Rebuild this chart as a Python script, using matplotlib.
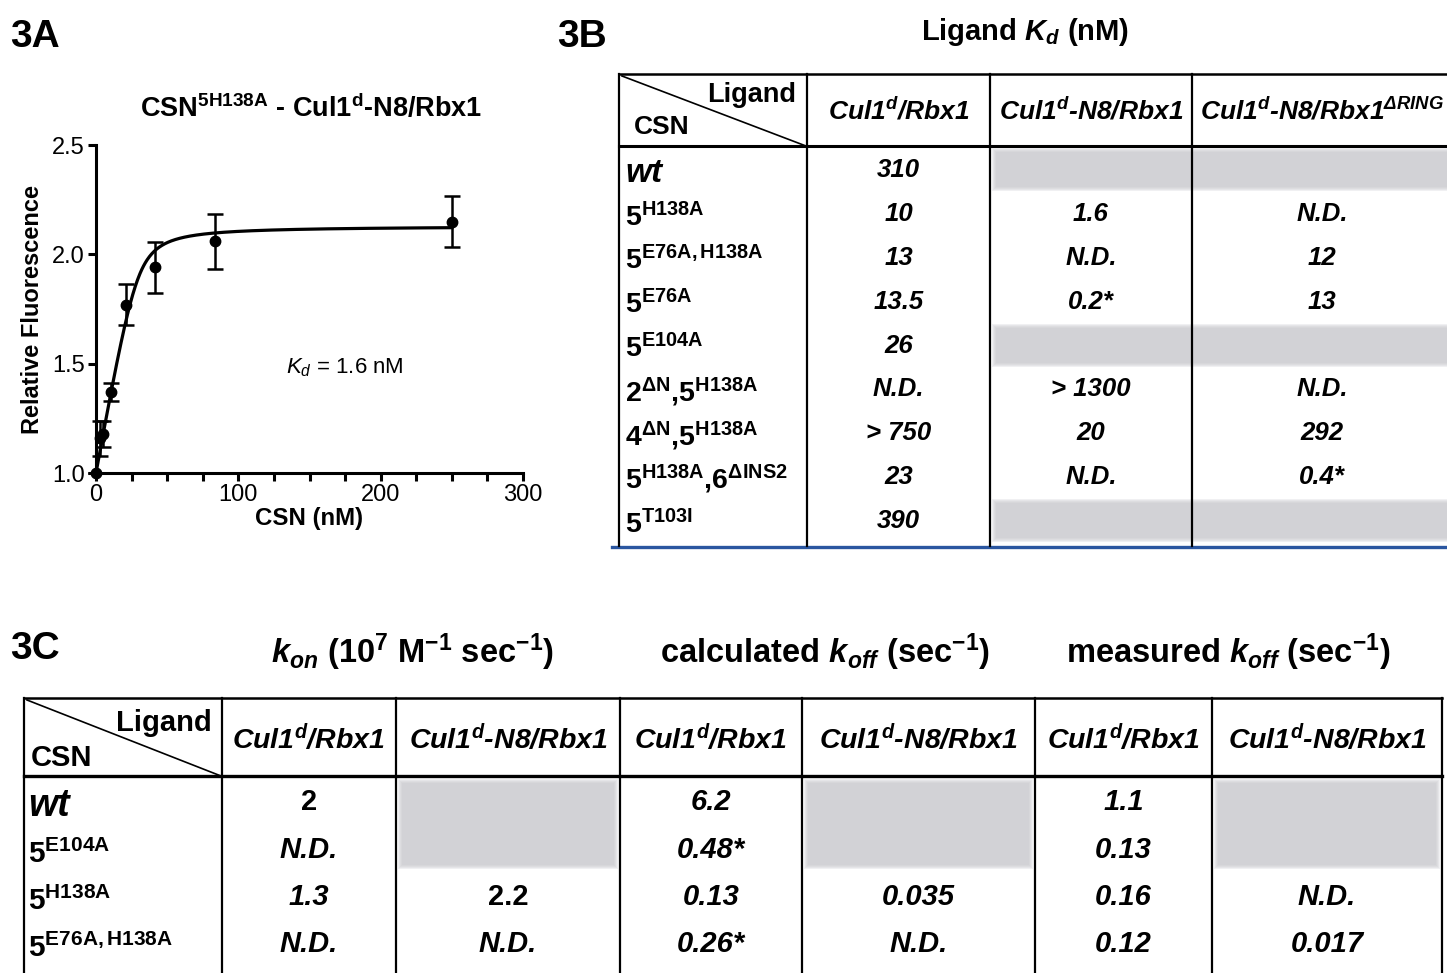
import numpy as np
import matplotlib
matplotlib.use("Agg")
import matplotlib.pyplot as plt
from matplotlib.patches import Rectangle
from matplotlib.ticker import MultipleLocator, FixedLocator

# ------------------------------------------------------------------ data
# Panel 3A : binding titration
csn_nM = [0, 2.6, 5.2, 10.4, 20.8, 41.7, 83.3, 250]
rel_fluor = [1.00, 1.16, 1.18, 1.37, 1.77, 1.94, 2.06, 2.15]
rel_fluor_err = [0.0, 0.08, 0.06, 0.04, 0.095, 0.115, 0.125, 0.115]
# fitted quadratic (tight) binding model parameters
fit_kd_nM = 1.6
fit_ligand_nM = 30.0
fit_f0 = 1.0
fit_fmax = 2.13

# Panel 3B : Kd table
kd_rows = ["wt", "5$^{\\mathbf{H138A}}$", "5$^{\\mathbf{E76A,H138A}}$",
           "5$^{\\mathbf{E76A}}$", "5$^{\\mathbf{E104A}}$",
           "2$^{\\mathbf{\\Delta N}}$,5$^{\\mathbf{H138A}}$",
           "4$^{\\mathbf{\\Delta N}}$,5$^{\\mathbf{H138A}}$",
           "5$^{\\mathbf{H138A}}$,6$^{\\mathbf{\\Delta INS2}}$",
           "5$^{\\mathbf{T103I}}$"]
kd_cols = ["Cul1$^{\\mathbfit{d}}$/Rbx1", "Cul1$^{\\mathbfit{d}}$-N8/Rbx1",
           "Cul1$^{\\mathbfit{d}}$-N8/Rbx1$^{\\mathbfit{\\Delta RING}}$"]
kd_cul1 = ["310", "10", "13", "13.5", "26", "N.D.", "> 750", "23", "390"]
kd_cul1_n8 = [None, "1.6", "N.D.", "0.2*", None, "> 1300", "20", "N.D.", None]
kd_cul1_n8_dring = [None, "N.D.", "12", "13", None, "N.D.", "292", "0.4*", None]

# Panel 3C : kinetics table
kin_groups = ["$\\mathbfit{k}_{\\mathbfit{on}}$ (10$^{\\mathbf{7}}$ M$^{\\mathbf{-1}}$ sec$^{\\mathbf{-1}}$)",
              "calculated $\\mathbfit{k}_{\\mathbfit{off}}$ (sec$^{\\mathbf{-1}}$)",
              "measured $\\mathbfit{k}_{\\mathbfit{off}}$ (sec$^{\\mathbf{-1}}$)"]
kin_cols = ["Cul1$^{\\mathbfit{d}}$/Rbx1", "Cul1$^{\\mathbfit{d}}$-N8/Rbx1"] * 3
kin_rows = ["wt", "5$^{\\mathbf{E104A}}$", "5$^{\\mathbf{H138A}}$", "5$^{\\mathbf{E76A,H138A}}$"]
kon_cul1 = ["2", "N.D.", "1.3", "N.D."]
kon_cul1_n8 = [None, None, "2.2", "N.D."]
koff_calc_cul1 = ["6.2", "0.48*", "0.13", "0.26*"]
koff_calc_cul1_n8 = [None, None, "0.035", "N.D."]
koff_meas_cul1 = ["1.1", "0.13", "0.16", "0.12"]
koff_meas_cul1_n8 = [None, None, "N.D.", "0.017"]

# ------------------------------------------------------------------ style
plt.rcParams["font.family"] = ["Liberation Sans", "DejaVu Sans"]
plt.rcParams["mathtext.fontset"] = "custom"
plt.rcParams["mathtext.rm"] = "Liberation Sans"
plt.rcParams["mathtext.it"] = "Liberation Sans:italic"
plt.rcParams["mathtext.bf"] = "Liberation Sans:bold"
plt.rcParams["mathtext.bfit"] = "Liberation Sans:bold:italic"
plt.rcParams["mathtext.sf"] = "Liberation Sans"

W, H = 1447, 973
fig = plt.figure(figsize=(W / 100, H / 100), dpi=100)
bg = fig.add_axes([0, 0, 1, 1])
bg.set_xlim(0, W)
bg.set_ylim(H, 0)
bg.axis("off")

GRAY_BASE = "#c6c6cc"


def soft_rect(x, y, w, h):
    """light gray cell with slightly blurred edges"""
    for k in range(5):
        bg.add_patch(Rectangle((x + k, y + k), w - 2 * k, h - 2 * k,
                               facecolor=GRAY_BASE, edgecolor="none",
                               alpha=0.25, zorder=1))


# panel labels
for lbl, x, y in [("3A", 10, 47), ("3B", 557, 47), ("3C", 10, 659)]:
    bg.text(x, y, lbl, fontsize=28, fontweight="bold", ha="left", va="baseline")

# ------------------------------------------------------------------ 3A
x0, x1, y0, y1 = 96, 523, 473, 145
ax = fig.add_axes([x0 / W, 1 - y0 / H, (x1 - x0) / W, (y0 - y1) / H])
xf = np.linspace(0, 250, 600)
s = fit_ligand_nM + xf + fit_kd_nM
frac = (s - np.sqrt(s ** 2 - 4 * fit_ligand_nM * xf)) / (2 * fit_ligand_nM)
ax.plot(xf, fit_f0 + (fit_fmax - fit_f0) * frac, color="k", lw=2.3, clip_on=False)
ax.errorbar(csn_nM, rel_fluor, yerr=rel_fluor_err, fmt="o", color="k", ms=7.5,
            capsize=5.5, elinewidth=1.8, capthick=1.8, clip_on=False, zorder=3)
ax.set_xlim(0, 300)
ax.set_ylim(1.0, 2.5)
ax.xaxis.set_major_locator(FixedLocator([0, 100, 200, 300]))
ax.xaxis.set_minor_locator(MultipleLocator(25))
ax.yaxis.set_major_locator(FixedLocator([1.0, 1.5, 2.0, 2.5]))
ax.set_yticklabels(["1.0", "1.5", "2.0", "2.5"])
for sp in ["top", "right"]:
    ax.spines[sp].set_visible(False)
for sp in ["left", "bottom"]:
    ax.spines[sp].set_linewidth(2.2)
ax.tick_params(axis="both", which="both", direction="out", width=2.2, length=6,
               labelsize=17, pad=2)
ax.tick_params(axis="x", which="minor", length=6)
ax.set_xlabel("CSN (nM)", fontsize=17.3, fontweight="bold", labelpad=1)
ax.set_ylabel("Relative Fluorescence", fontsize=17, fontweight="bold", labelpad=6)
ax.patch.set_alpha(0)
bg.text(311, 117, "CSN$^{\\mathbf{5H138A}}$ - Cul1$^{\\mathbf{d}}$-N8/Rbx1",
        fontsize=19.5, fontweight="bold", ha="center", va="baseline")
bg.text(345, 373, "$K_d$ = 1.6 nM", fontsize=16, ha="center", va="baseline")

# ------------------------------------------------------------------ 3B table
bL, bR, bT, bH, bB = 619, 1452, 74, 146, 547
bcols = [bL, 807, 990, 1192, bR]
row_c = [168 + 43.9 * i for i in range(len(kd_rows))]
bvals = [kd_cul1, kd_cul1_n8, kd_cul1_n8_dring]

# gray shading for empty cells
for ri in range(len(kd_rows)):
    empt = [ci for ci in range(3) if bvals[ci][ri] is None]
    if empt:
        xa = bcols[min(empt) + 1] + 2
        xb = bcols[max(empt) + 2]
        soft_rect(xa, row_c[ri] - 20, xb - xa, 43)

bg.text(1025, 40, "Ligand $\\mathbfit{K}_{\\mathbfit{d}}$ (nM)", fontsize=21,
        fontweight="bold", ha="center", va="baseline")
bg.plot([bL, bR], [bT, bT], color="k", lw=1.8, zorder=3)
bg.plot([bL, bR], [bH, bH], color="k", lw=2.2, zorder=3)
bg.plot([612, bR], [bB, bB], color="#2a56a0", lw=2.4, zorder=3)
for x in bcols[:-1]:
    bg.plot([x, x], [bT, bB - 1], color="k", lw=1.6, zorder=3)
bg.plot([bL + 3, bcols[1] - 1], [bT + 2, bH], color="k", lw=1.2, zorder=3)
bg.text(752, 95, "Ligand", fontsize=19.5, fontweight="bold", ha="center", va="center")
bg.text(662, 127, "CSN", fontsize=19, fontweight="bold", ha="center", va="center")
for ci, lab in enumerate(kd_cols):
    cx = (bcols[ci + 1] + bcols[ci + 2]) / 2
    bg.text(cx, 119, lab, fontsize=19, fontweight="bold", style="italic",
            ha="center", va="baseline")
for ri, lab in enumerate(kd_rows):
    if lab == "wt":
        bg.text(625, row_c[ri] + 14, lab, fontsize=24, fontweight="bold",
                style="italic", ha="left", va="baseline")
    else:
        bg.text(625, row_c[ri] + 14, lab, fontsize=20.5, fontweight="bold",
                ha="left", va="baseline")
for ci, col in enumerate(bvals):
    cx = (bcols[ci + 1] + bcols[ci + 2]) / 2
    for ri, v in enumerate(col):
        if v is not None:
            bg.text(cx, row_c[ri] + 9, v, fontsize=18.5, fontweight="bold",
                    style="italic", ha="center", va="baseline", zorder=4)

# ------------------------------------------------------------------ 3C table
cL, cR, cT, cH, cB = 24, 1442, 698, 776, 990
ccols = [cL, 222, 396, 620, 802, 1035, 1212, cR]
crow_c = [800, 848, 895, 942]
cvals = [kon_cul1, kon_cul1_n8, koff_calc_cul1, koff_calc_cul1_n8,
         koff_meas_cul1, koff_meas_cul1_n8]
upright = {"2", "2.2"}

for ci, col in enumerate(cvals):
    empties = [ri for ri, v in enumerate(col) if v is None]
    if empties:
        top = crow_c[min(empties)] - 21
        bot = crow_c[max(empties)] + 21
        soft_rect(ccols[ci + 1] + 2, top, ccols[ci + 2] - ccols[ci + 1] - 4, bot - top)

for gi, g in enumerate(kin_groups):
    cx = [412, 825, 1228][gi]
    bg.text(cx, 663, g, fontsize=23.5, fontweight="bold", ha="center", va="baseline")

bg.plot([cL, cR], [cT, cT], color="k", lw=1.8, zorder=3)
bg.plot([cL, cR], [cH, cH], color="k", lw=2.4, zorder=3)
for x in ccols:
    bg.plot([x, x], [cT, cB], color="k", lw=1.6, zorder=3)
bg.plot([cL + 3, ccols[1] - 1], [cT + 2, cH], color="k", lw=1.2, zorder=3)
bg.text(164, 723, "Ligand", fontsize=21, fontweight="bold", ha="center", va="center")
bg.text(61, 758, "CSN", fontsize=21, fontweight="bold", ha="center", va="center")
for ci, lab in enumerate(kin_cols):
    cx = (ccols[ci + 1] + ccols[ci + 2]) / 2
    bg.text(cx, 749, lab, fontsize=20.5, fontweight="bold", style="italic",
            ha="center", va="baseline")
for ri, lab in enumerate(kin_rows):
    if lab == "wt":
        bg.text(28, crow_c[ri] + 16, lab, fontsize=27, fontweight="bold",
                style="italic", ha="left", va="baseline")
    else:
        bg.text(28, crow_c[ri] + 15, lab, fontsize=21.5, fontweight="bold",
                ha="left", va="baseline")
for ci, col in enumerate(cvals):
    cx = (ccols[ci + 1] + ccols[ci + 2]) / 2
    for ri, v in enumerate(col):
        if v is not None:
            bg.text(cx, crow_c[ri] + 10, v, fontsize=21, fontweight="bold",
                    style="normal" if v in upright else "italic",
                    ha="center", va="baseline", zorder=4)

fig.savefig("out.png", dpi=100)
